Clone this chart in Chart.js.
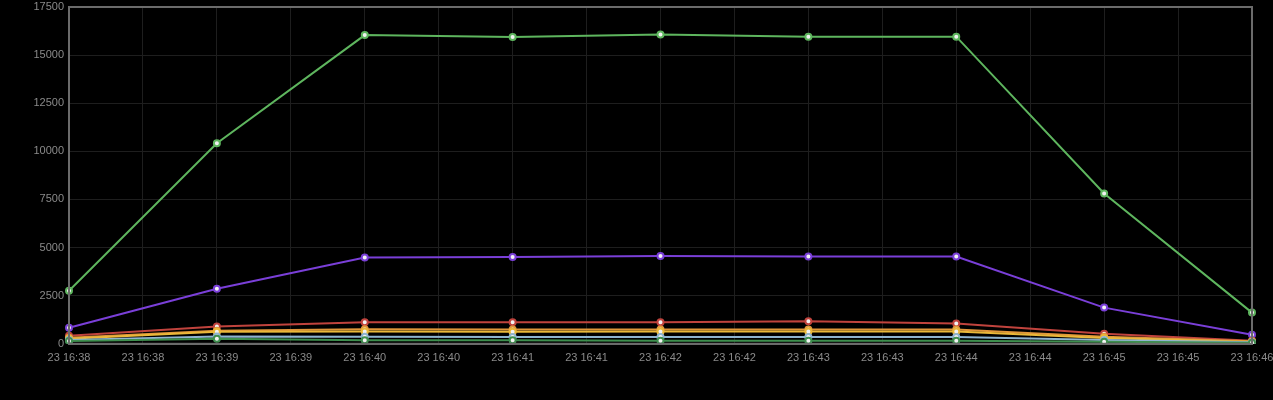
<!DOCTYPE html>
<html>
<head>
<meta charset="utf-8">
<script src="https://cdn.jsdelivr.net/npm/chart.js@4"></script>
<style>
    html, body { margin: 0; padding: 0; background: #000; }
    #wrap { width: 1273px; height: 400px; }
</style>
</head>
<body>
<div id="wrap"><canvas id="myChart"></canvas></div>
<script>
// x tick labels (one data point every second tick)
var labels = ['23 16:38', '23 16:38', '23 16:39', '23 16:39', '23 16:40', '23 16:40', '23 16:41', '23 16:41',
              '23 16:42', '23 16:42', '23 16:43', '23 16:43', '23 16:44', '23 16:44', '23 16:45', '23 16:45', '23 16:46'];

var greenTop  = [2760, 10420, 16040, 15940, 16070, 15960, 15960, 7810, 1620];
var purple    = [830, 2860, 4480, 4510, 4560, 4530, 4530, 1880, 470];
var red       = [420, 900, 1120, 1120, 1120, 1170, 1050, 520, 160];
var orange    = [320, 680, 760, 740, 740, 740, 740, 360, 130];
var yellow    = [260, 620, 640, 620, 640, 640, 640, 300, 100];
var lightBlue = [200, 380, 360, 350, 350, 350, 350, 200, 80];
var greenLow  = [140, 260, 180, 180, 160, 160, 160, 110, 50];

var yMax = 17500;
var yStep = 2500;

// put values on every second label, gaps spanned
function spread(arr) {
    var out = [];
    for (var i = 0; i < arr.length; i++) {
        out.push(arr[i]);
        if (i < arr.length - 1) out.push(null);
    }
    return out;
}

function ds(label, data, color) {
    return {
        label: label,
        data: spread(data),
        borderColor: color,
        backgroundColor: color,
        pointBackgroundColor: '#f2f2f2',
        pointBorderColor: color,
        pointBorderWidth: 2,
        pointRadius: 3,
        borderWidth: 2,
        spanGaps: true,
        tension: 0
    };
}

var frame = {
    id: 'frame',
    afterDraw: function(chart) {
        var a = chart.chartArea;
        var c = chart.ctx;
        c.save();
        c.strokeStyle = '#6b6b6b';
        c.lineWidth = 2;
        c.strokeRect(a.left, a.top, a.right - a.left, a.bottom - a.top);
        c.restore();
    }
};

var ctx = document.getElementById('myChart').getContext('2d');
var myChart = new Chart(ctx, {
    type: 'line',
    data: {
        labels: labels,
        datasets: [
            ds('greenLow', greenLow, '#3e8f4e'),
            ds('lightBlue', lightBlue, '#8fb4cf'),
            ds('yellow', yellow, '#eab839'),
            ds('orange', orange, '#e0953a'),
            ds('red', red, '#c0433d'),
            ds('purple', purple, '#7a3fd8'),
            ds('greenTop', greenTop, '#5eb55e')
        ]
    },
    options: {
        responsive: true,
        maintainAspectRatio: false,
        animation: false,
        layout: { padding: { top: 0, right: 0, bottom: 27, left: 0 } },
        plugins: {
            legend: { display: false },
            tooltip: { enabled: false }
        },
        scales: {
            x: {
                grid: { color: '#1e1e1e', drawTicks: false },
                border: { color: '#6b6b6b', width: 2 },
                afterFit: function(scale) {
                    scale.paddingLeft = 0;
                    scale.paddingRight = 21;
                },
                ticks: {
                    color: '#8a8a8a',
                    font: { family: 'Liberation Sans', size: 11 },
                    maxRotation: 0,
                    autoSkip: false,
                    padding: 8
                }
            },
            y: {
                min: 0,
                max: yMax,
                grid: { color: '#1e1e1e', drawTicks: false },
                border: { color: '#6b6b6b', width: 2 },
                afterFit: function(scale) {
                    scale.width = 69;
                    scale.paddingTop = 7;
                },
                ticks: {
                    stepSize: yStep,
                    color: '#8a8a8a',
                    font: { family: 'Liberation Sans', size: 11 },
                    padding: 5,
                    callback: function(v) { return String(v); }
                }
            }
        }
    },
    plugins: [frame]
});
</script>
</body>
</html>
